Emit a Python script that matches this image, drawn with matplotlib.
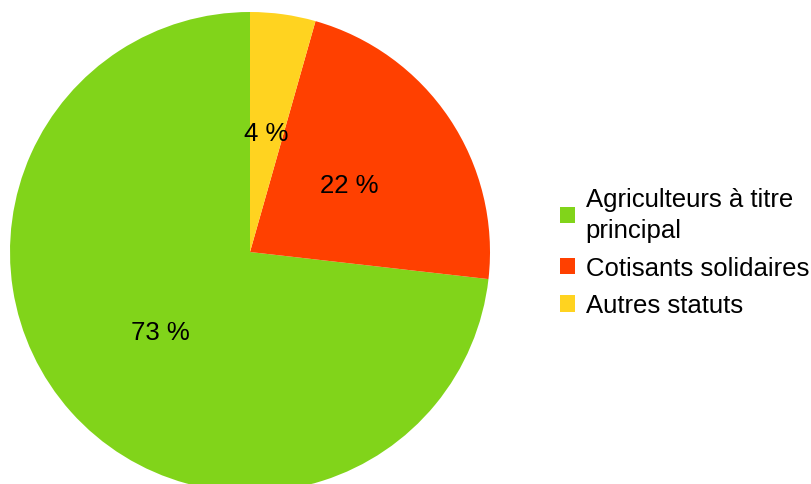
import matplotlib.pyplot as plt

plt.rcParams['font.family'] = ['Liberation Sans', 'DejaVu Sans']

# statut des exploitants
labels = ['Agriculteurs à titre\nprincipal', 'Cotisants solidaires', 'Autres statuts']
values = [73.2, 22.4, 4.4]
colors = ['#81d41a', '#ff4000', '#ffd320']

fig = plt.figure(figsize=(8.11, 4.85), dpi=100)
# pie axis: 480 px wide, slightly clipped at the bottom
ax = fig.add_axes([10 / 811, -8 / 485, 480 / 811, 480 / 485])

wedges, texts, autotexts = ax.pie(
    values, colors=colors, startangle=90, counterclock=True,
    autopct=lambda p: '%d %%' % round(p), pctdistance=0.5,
    textprops={'fontsize': 18.5, 'color': 'black'},
    wedgeprops={'linewidth': 0})
ax.set_xlim(-1, 1)
ax.set_ylim(-1, 1)
ax.set_aspect('equal')

leg = fig.legend(wedges, labels, loc='upper left',
                 bbox_to_anchor=(560 / 811, 1 - 188 / 485),
                 frameon=False, fontsize=18.5,
                 handlelength=0.6, handleheight=0.6, handletextpad=0.4,
                 labelspacing=0.53, borderaxespad=0, borderpad=0)
for t in leg.get_texts():
    t.set_linespacing(1.38)

fig.savefig('out.png', dpi=100)
